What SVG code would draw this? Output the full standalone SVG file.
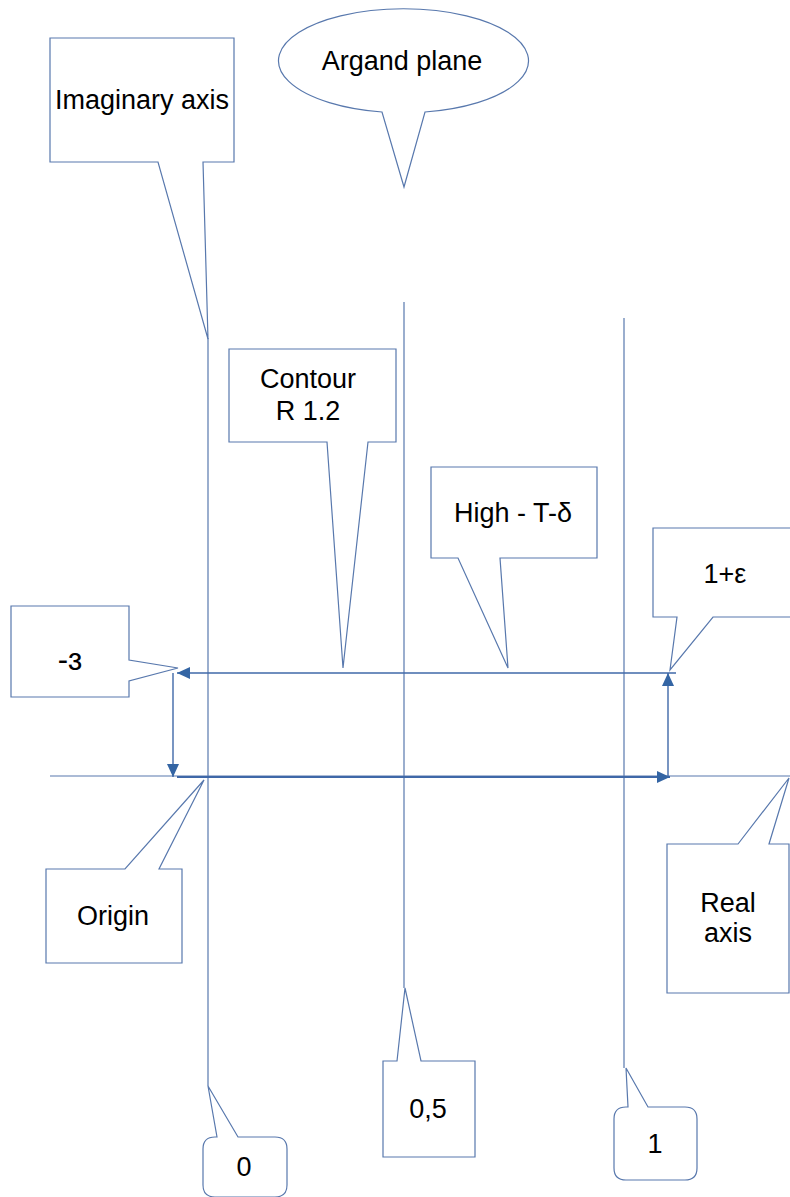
<svg xmlns="http://www.w3.org/2000/svg" width="790" height="1197" viewBox="0 0 790 1197">
<defs>
<style>
.sh{fill:#fff;stroke:#5878ad;stroke-width:1.2;stroke-linejoin:miter}
.ln{fill:none;stroke:#5878ad;stroke-width:1.2}
.ar{fill:none;stroke:#3f68a8;stroke-width:1.4}
.arb{fill:none;stroke:#3f68a8;stroke-width:2.2}
.t{font-family:"Liberation Sans",Arial,sans-serif;font-size:27px;fill:#000;text-anchor:middle}
</style>
<marker id="ah" viewBox="0 0 13 12" refX="13" refY="6" markerWidth="13" markerHeight="12" markerUnits="userSpaceOnUse" orient="auto">
<path d="M0,0 L13,6 L0,12 Z" fill="#3465a4"/>
</marker>
</defs>
<rect width="790" height="1197" fill="#fff"/>

<g id="connectors">
<line class="ln" x1="208" y1="338" x2="208" y2="1086"/>
<line class="ln" x1="404" y1="302" x2="404" y2="988"/>
<line class="ln" x1="624" y1="318" x2="624" y2="1068"/>
<line class="ln" x1="50" y1="776" x2="790" y2="776"/>
<line class="ar" x1="676" y1="673" x2="177" y2="673" marker-end="url(#ah)"/>
<line class="ar" x1="173" y1="673" x2="173" y2="777" marker-end="url(#ah)"/>
<line class="arb" x1="177" y1="777" x2="670" y2="777" marker-end="url(#ah)"/>
<line class="ar" x1="668" y1="777" x2="668" y2="673" marker-end="url(#ah)"/>
</g>

<g id="imaginary-axis">
<path class="sh" d="M50,38 H234 V162 H203 L208,339 L158,162 H50 Z"/>
<text class="t" x="142" y="109">Imaginary axis</text>
</g>

<g id="argand-plane">
<path class="sh" d="M382,112 A125,52 0 1 1 425,112 L404,187 Z"/>
<text class="t" x="402" y="70">Argand plane</text>
</g>

<g id="contour">
<path class="sh" d="M229,349 H396 V442 H368 L343,668 L327,442 H229 Z"/>
<text class="t" x="308" y="388">Contour</text>
<text class="t" x="308" y="420">R 1.2</text>
</g>

<g id="high">
<path class="sh" d="M431,467 H597 V558 H500 L508,668 L458,558 H431 Z"/>
<text class="t" x="513" y="522">High - T-δ</text>
</g>

<g id="one-plus-eps">
<path class="sh" d="M653,528 H800 V617 H713 L670,670 L677,617 H653 Z"/>
<text class="t" x="725" y="583">1+ε</text>
</g>

<g id="minus-eps">
<path class="sh" d="M11,606 H129 V660 L178,668 L129,681 V697 H11 Z"/>
<text class="t" x="70" y="670" style="font-size:31px">-ɜ</text>
</g>

<g id="origin">
<path class="sh" d="M46,869 H125 L204,780 L159,869 H182 V963 H46 Z"/>
<text class="t" x="113" y="925">Origin</text>
</g>

<g id="real-axis">
<path class="sh" d="M667,844 H738 L789,778 L769,844 H789 V993 H667 Z"/>
<text class="t" x="728" y="912">Real</text>
<text class="t" x="728" y="942">axis</text>
</g>

<g id="zero">
<path class="sh" d="M217,1137 L208,1086 L238,1137 H275 Q287,1137 287,1149 V1185 Q287,1197 275,1197 H215 Q203,1197 203,1185 V1149 Q203,1137 215,1137 Z"/>
<text class="t" x="244" y="1176">0</text>
</g>

<g id="half">
<path class="sh" d="M383,1061 H397 L405,988 L421,1061 H475 V1157 H383 Z"/>
<text class="t" x="428" y="1118">0,5</text>
</g>

<g id="one">
<path class="sh" d="M628,1107 L626,1068 L648,1107 H685 Q697,1107 697,1119 V1168 Q697,1180 685,1180 H626 Q614,1180 614,1168 V1119 Q614,1107 626,1107 Z"/>
<text class="t" x="655" y="1153">1</text>
</g>
</svg>
